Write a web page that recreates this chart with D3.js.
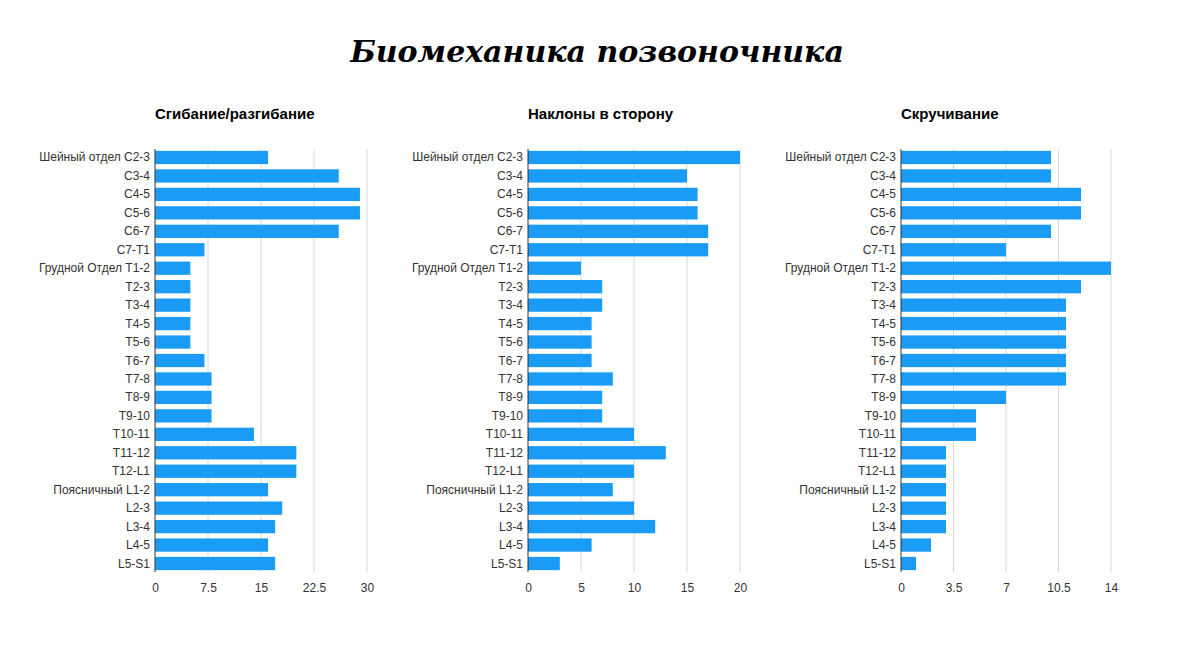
<!DOCTYPE html>
<html><head><meta charset="utf-8">
<script src="https://cdn.jsdelivr.net/npm/d3@7"></script>
<style>body{margin:0;background:#fff}</style></head>
<body><svg id="c" width="1200" height="668"></svg>
<script>
const categories = ["Шейный отдел C2-3","C3-4","C4-5","C5-6","C6-7","C7-T1","Грудной Отдел T1-2","T2-3","T3-4","T4-5","T5-6","T6-7","T7-8","T8-9","T9-10","T10-11","T11-12","T12-L1","Поясничный L1-2","L2-3","L3-4","L4-5","L5-S1"];
const flexion = [16,26,29,29,26,7,5,5,5,5,5,7,8,8,8,14,20,20,16,18,17,16,17];
const lateral = [20,15,16,16,17,17,5,7,7,6,6,6,8,7,7,10,13,10,8,10,12,6,3];
const rotation = [10,10,12,12,10,7,14,12,11,11,11,11,11,7,5,5,3,3,3,3,3,2,1];
const ticks1 = [0,7.5,15,22.5,30], ticks2=[0,5,10,15,20], ticks3=[0,3.5,7,10.5,14];
const titles = ["Сгибание/разгибание","Наклоны в сторону","Скручивание"];

const svg = d3.select("#c");
svg.append("text").attr("x",597).attr("y",62).attr("text-anchor","middle")
  .attr("font-family","DejaVu Serif").attr("font-style","italic").attr("font-weight","bold")
  .attr("font-size",30).text("Биомеханика позвоночника");

const panels = [
  {x0:155,x1:367,data:flexion,ticks:ticks1,max:30,title:titles[0]},
  {x0:528,x1:740,data:lateral,ticks:ticks2,max:20,title:titles[1]},
  {x0:901,x1:1111,data:rotation,ticks:ticks3,max:14,title:titles[2]}
];
const y = d3.scaleBand().domain(categories).range([149,572]).paddingInner(0.28).paddingOuter(0.1);
panels.forEach(p=>{
  const g = svg.append("g").attr("font-family","Liberation Sans, Arial");
  const x = d3.scaleLinear().domain([0,p.max]).range([p.x0,p.x1]);
  g.append("text").attr("x",p.x0).attr("y",119).attr("font-size",15).attr("font-weight","bold").text(p.title);
  g.selectAll(".gl").data(p.ticks.slice(1)).enter().append("line")
    .attr("x1",d=>x(d)).attr("x2",d=>x(d)).attr("y1",149).attr("y2",572)
    .attr("stroke","#d8d8d8");
  g.selectAll("rect").data(p.data).enter().append("rect")
    .attr("x",x(0)).attr("y",(d,i)=>y(categories[i])).attr("height",y.bandwidth())
    .attr("width",d=>x(d)-x(0)).attr("fill","#1a9bf5");
  g.append("line").attr("x1",x(0)).attr("x2",x(0)).attr("y1",149).attr("y2",572).attr("stroke","#333");
  const ax = d3.axisBottom(x).tickValues(p.ticks).tickSize(0).tickFormat(d=>d);
  const a = g.append("g").attr("transform","translate(0,580)").call(ax);
  a.select(".domain").remove();
  a.selectAll("text").attr("font-size",12).attr("fill","#333").attr("font-family","Liberation Sans, Arial");
  g.selectAll(".lb").data(categories).enter().append("text")
    .attr("x",p.x0-5).attr("y",d=>y(d)+y.bandwidth()/2+4).attr("text-anchor","end")
    .attr("font-size",12).attr("fill","#333").text(d=>d);
});
</script></body></html>
